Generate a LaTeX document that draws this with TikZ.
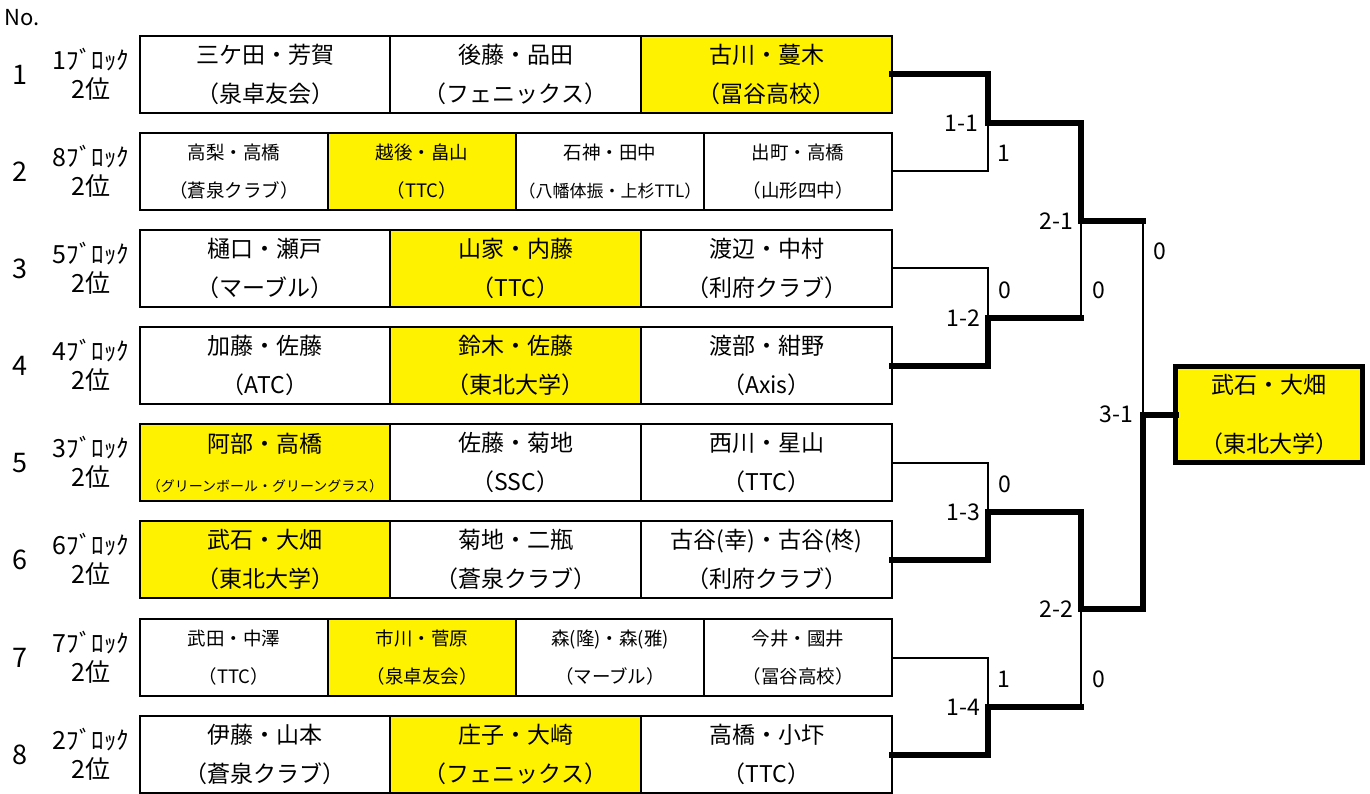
\documentclass[tikz,border=0pt]{standalone}
\usepackage{fontspec}
\setmainfont{Noto Sans CJK JP}
\usetikzlibrary{positioning}

\begin{document}
\begin{tikzpicture}[x=1pt,y=-1pt,
  cell/.style={draw, line width=1.6pt, inner sep=0pt, outer sep=0pt, minimum height=77, align=center, font=\fontsize{23}{39}\selectfont},
  narrowrow/.style={font=\fontsize{18.5}{38}\selectfont},
  picked/.style={fill=yellow},
  champ/.style={draw, fill=yellow, line width=5pt, inner sep=0pt, outer sep=0pt, minimum width=187, minimum height=96, align=center, font=\fontsize{23}{59}\selectfont},
  won/.style={line width=6pt, line cap=rect},
  lost/.style={line width=2pt},
  lbl/.style={inner sep=0pt, font=\fontsize{23}{23}\selectfont},
  num/.style={inner sep=0pt, font=\fontsize{27}{27}\selectfont},
  blk/.style={inner sep=0pt, align=center, font=\fontsize{25}{29}\selectfont}]
\useasboundingbox (0,0) rectangle (1370,794);

\node[num, font=\fontsize{22}{22}\selectfont] (no) at (22,18) {No.};

\node[num] (n1) at (20,75) {1};
\node[blk] (b1) at (91,74) {1ﾌﾞﾛｯｸ\\2位};
\node[num] (n2) at (20,172) {2};
\node[blk] (b2) at (91,171) {8ﾌﾞﾛｯｸ\\2位};
\node[num] (n3) at (20,269) {3};
\node[blk] (b3) at (91,268) {5ﾌﾞﾛｯｸ\\2位};
\node[num] (n4) at (20,366) {4};
\node[blk] (b4) at (91,365) {4ﾌﾞﾛｯｸ\\2位};
\node[num] (n5) at (20,463) {5};
\node[blk] (b5) at (91,462) {3ﾌﾞﾛｯｸ\\2位};
\node[num] (n6) at (20,560) {6};
\node[blk] (b6) at (91,559) {6ﾌﾞﾛｯｸ\\2位};
\node[num] (n7) at (20,658) {7};
\node[blk] (b7) at (91,657) {7ﾌﾞﾛｯｸ\\2位};
\node[num] (n8) at (20,755) {8};
\node[blk] (b8) at (91,754) {2ﾌﾞﾛｯｸ\\2位};

\node[cell, minimum width=250, anchor=north west] (r1a) at (140,36) {三ケ田・芳賀\\（泉卓友会）};
\node[cell, minimum width=251, right=0pt of r1a] (r1b) {後藤・品田\\（フェニックス）};
\node[cell, picked, minimum width=251, right=0pt of r1b] (r1c) {古川・蔓木\\（冨谷高校）};

\node[cell, narrowrow, minimum width=188, anchor=north west] (r2a) at (140,133) {高梨・高橋\\（蒼泉クラブ）};
\node[cell, narrowrow, picked, minimum width=188, right=0pt of r2a] (r2b) {越後・畠山\\（TTC）};
\node[cell, narrowrow, minimum width=188, right=0pt of r2b] (r2c) {石神・田中\\{\fontsize{17}{38}\selectfont（八幡体振・上杉TTL）}};
\node[cell, narrowrow, minimum width=188, right=0pt of r2c] (r2d) {出町・高橋\\（山形四中）};

\node[cell, minimum width=250, anchor=north west] (r3a) at (140,230) {樋口・瀬戸\\（マーブル）};
\node[cell, picked, minimum width=251, right=0pt of r3a] (r3b) {山家・内藤\\（TTC）};
\node[cell, minimum width=251, right=0pt of r3b] (r3c) {渡辺・中村\\（利府クラブ）};

\node[cell, minimum width=250, anchor=north west] (r4a) at (140,327) {加藤・佐藤\\（ATC）};
\node[cell, picked, minimum width=251, right=0pt of r4a] (r4b) {鈴木・佐藤\\（東北大学）};
\node[cell, minimum width=251, right=0pt of r4b] (r4c) {渡部・紺野\\（Axis）};

\node[cell, picked, minimum width=250, anchor=north west] (r5a) at (140,424) {阿部・高橋\\{\fontsize{14}{39}\selectfont（グリーンボール・グリーングラス）}};
\node[cell, minimum width=251, right=0pt of r5a] (r5b) {佐藤・菊地\\（SSC）};
\node[cell, minimum width=251, right=0pt of r5b] (r5c) {西川・星山\\（TTC）};

\node[cell, picked, minimum width=250, anchor=north west] (r6a) at (140,521) {武石・大畑\\（東北大学）};
\node[cell, minimum width=251, right=0pt of r6a] (r6b) {菊地・二瓶\\（蒼泉クラブ）};
\node[cell, minimum width=251, right=0pt of r6b] (r6c) {古谷(幸)・古谷(柊)\\（利府クラブ）};

\node[cell, narrowrow, minimum width=188, anchor=north west] (r7a) at (140,619) {武田・中澤\\（TTC）};
\node[cell, narrowrow, picked, minimum width=188, right=0pt of r7a] (r7b) {市川・菅原\\（泉卓友会）};
\node[cell, narrowrow, minimum width=188, right=0pt of r7b] (r7c) {森(隆)・森(雅)\\（マーブル）};
\node[cell, narrowrow, minimum width=188, right=0pt of r7c] (r7d) {今井・國井\\（冨谷高校）};

\node[cell, minimum width=250, anchor=north west] (r8a) at (140,716) {伊藤・山本\\（蒼泉クラブ）};
\node[cell, picked, minimum width=251, right=0pt of r8a] (r8b) {庄子・大崎\\（フェニックス）};
\node[cell, minimum width=251, right=0pt of r8b] (r8c) {高橋・小圷\\（TTC）};

\node[champ, anchor=north west] (champ) at (1175.5,366.5) {武石・大畑\\（東北大学）};

\coordinate (m11) at (988,123);
\coordinate (m12) at (988,318);
\coordinate (m13) at (988,512);
\coordinate (m14) at (988,707);
\coordinate (m21) at (1081,221);
\coordinate (m22) at (1081,609);
\coordinate (m31) at (1143,414.5);

\draw[won] (r1c.east) -| (m11);
\draw[lost] (r2d.east) -| (m11);
\draw[lost] (r3c.east) -| (m12);
\draw[won] (r4c.east) -| (m12);
\draw[lost] (r5c.east) -| (m13);
\draw[won] (r6c.east) -| (m13);
\draw[lost] (r7d.east) -| (m14);
\draw[won] (r8c.east) -| (m14);

\draw[won] (m11) -| (m21);
\draw[lost] (m12 -| m21) -- (m21);
\draw[won] (m12) -- (m12 -| m21);
\draw[won] (m13) -| (m22);
\draw[lost] (m14 -| m22) -- (m22);
\draw[won] (m14) -- (m14 -| m22);

\draw[lost] (m21 -| m31) -- (m31);
\draw[won] (m21) -- (m21 -| m31);
\draw[won] (m22) -| (m31);
\draw[won] (m31) -- (champ.west);

\node[lbl, left=10pt of m11] (l11) {1-1};
\node[lbl, left=8pt of m12] (l12) {1-2};
\node[lbl, left=8pt of m13] (l13) {1-3};
\node[lbl, left=8pt of m14] (l14) {1-4};
\node[lbl, left=8pt of m21] (l21) {2-1};
\node[lbl, left=8pt of m22] (l22) {2-2};
\node[lbl, left=10pt of m31] (l31) {3-1};

\node[lbl] (s11) at (1004,153) {1};
\node[lbl] (s12) at (1005,290) {0};
\node[lbl] (s13) at (1005,484) {0};
\node[lbl] (s14) at (1004,679) {1};
\node[lbl] (s21) at (1099,290) {0};
\node[lbl] (s22) at (1099,679) {0};
\node[lbl] (s31) at (1160,251) {0};
\end{tikzpicture}
\end{document}
